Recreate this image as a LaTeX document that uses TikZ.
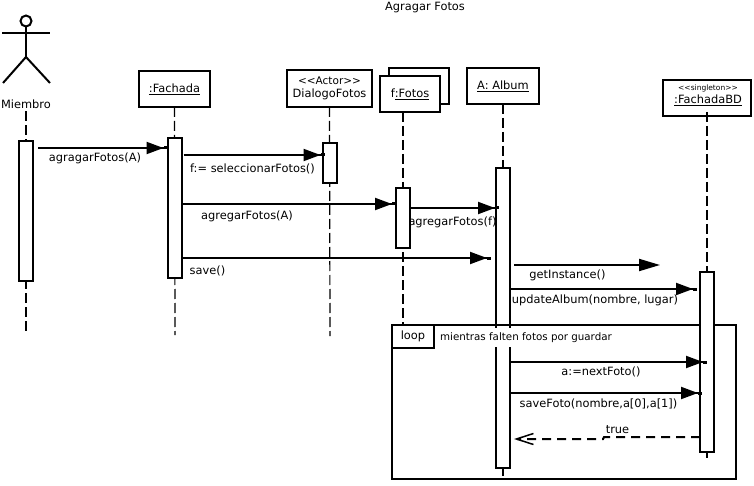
\documentclass[tikz,border=0pt]{standalone}
\usepackage{fontspec}
\setmainfont{DejaVu Sans}
\usetikzlibrary{positioning}
\usetikzlibrary{arrows.meta}
\tikzstyle{headbox} = [rectangle, draw=black, line width=2pt, fill=white,
    outer sep=0pt, inner sep=0pt, text centered, align=center]
\tikzstyle{activation} = [rectangle, draw=black, line width=2pt, fill=white,
    outer sep=0pt, inner sep=0pt,
    minimum width=14pt]
\tikzstyle{lifeline} = [line width=1.2pt, dash pattern=on 10pt off 4pt]
\tikzstyle{message} = [line width=2pt,
    -{Triangle[length=17pt,width=12pt]Rectangle[length=4pt,width=1pt]}]
\tikzstyle{reply} = [line width=2pt, dash pattern=on 9pt off 6pt,
    -{Straight Barb[length=17pt,width=11pt,line width=1.5pt]}]
\tikzstyle{limb} = [line width=2pt]
\tikzstyle{txt} = [inner sep=0pt, font=\fontsize{11.4pt}{13pt}\selectfont]

\begin{document}
\begin{tikzpicture}[x=1pt,y=-1pt]
\useasboundingbox (0,0) rectangle (754,486);

\node (title) [txt] at (425,8) {Agragar Fotos};

% actor
\node (head) [circle, draw=black, line width=2pt, inner sep=0pt, minimum size=11pt] at (26,21) {};
\coordinate (hip) at (26,57);
\coordinate (armL) at (2,33);
\coordinate (armR) at (50,33);
\coordinate (footL) at (3,83);
\coordinate (footR) at (50,83);
\draw [limb] (head) -- (hip);
\draw [limb] (armL) -- (armR);
\draw [limb] (footL) -- (hip) -- (footR);
\node (miembro) [txt, minimum height=14pt] at (26,104) {Miembro};

% heads
\node (fachada) [headbox, txt, minimum width=71pt, minimum height=36pt] at (174.5,89) {\underline{:Fachada}};
\node (dialogo) [headbox, minimum width=85pt, minimum height=37pt, txt, right = 77pt of fachada, yshift=.5pt] {{\fontsize{10.5pt}{13pt}\selectfont <{}<Actor>{}>}\\DialogoFotos};
\node (fotosBack) [headbox, minimum width=60pt, minimum height=36pt] at (419,86) {};
\node (fotos) [headbox, txt, minimum width=60pt, minimum height=36pt, below left = -28pt and -51pt of fotosBack] {f\underline{:Fotos}};
\node (album) [headbox, txt, minimum width=72pt, minimum height=36pt] at (503,86) {\underline{A: Album}};
\node (fachadaBD) [headbox, minimum width=88pt, minimum height=36pt] at (707,98) {};
\node (singleton) [txt, font=\fontsize{7.5pt}{8pt}\selectfont] at (708,88) {<{}<singleton>{}>};
\node (fachadaName) [txt] at (708,100.5) {\underline{:FachadaBD}};

% lifeline ends
\coordinate (endMiembro) at (26,335);
\coordinate (endFachada) at (175,335);
\coordinate (endDialogo) at (330,336);
\coordinate (endFotos) at (403,325);
\coordinate (endAlbum) at (503,476);
\coordinate (endBD) at (707,460);

\draw [lifeline] (miembro.south) -- (endMiembro);
\draw [lifeline] (fachada.south) -- (endFachada);
\draw [lifeline] (dialogo.south) -- (endDialogo);
\draw [lifeline] (fotos.south -| endFotos) -- (endFotos);
\draw [lifeline] (album.south) -- (endAlbum);
\draw [lifeline] ([yshift=4pt]fachadaBD.south) -- (endBD);

% activations
\node (actMiembro) [activation, minimum height=140pt, below = 30pt of miembro] {};
\node (actFachada) [activation, minimum height=140pt, below = 31pt of fachada] {};
\node (actDialogo) [activation, minimum height=40pt, below = 36pt of dialogo] {};
\node (actFotos) [activation, minimum height=60pt] at (403,218) {};
\node (actAlbum) [activation, minimum height=300pt, below = 64pt of album] {};

% loop
\node (frame) [rectangle, draw=black, line width=2pt, minimum width=344pt, minimum height=154pt,
    outer sep=0pt] at (564,402) {};
\node (loopTag) [rectangle, draw=black, line width=2pt, fill=white, minimum width=42pt, minimum height=23pt,
    outer sep=0pt, inner sep=0pt, txt] at (413,336.5) {loop};
\node (guard) [txt, font=\fontsize{10.3pt}{12pt}\selectfont, fill=white, minimum width=178pt, minimum height=19pt] at (526,337.5) {mientras falten fotos por guardar};

\node (actBD) [activation, minimum height=180pt] at (707,362) {};

% message rows
\coordinate (rowAgragar) at (0,148);
\coordinate (rowSelect) at (0,155);
\coordinate (rowAgregar) at (0,204);
\coordinate (rowAgregarF) at (0,208);
\coordinate (rowSave) at (0,258);
\coordinate (rowInstance) at (0,265);
\coordinate (rowUpdate) at (0,289);
\coordinate (rowNext) at (0,362);
\coordinate (rowFoto) at (0,393);
\coordinate (rowTrue) at (0,437);
\coordinate (rowTrueEnd) at (0,439);
\coordinate (instanceEnd) at (660,265);

\draw [message] ([xshift=5pt]actMiembro.east |- rowAgragar) -- (actFachada.west |- rowAgragar);
\draw [message] ([xshift=2pt]actFachada.east |- rowSelect) -- ([xshift=2pt]actDialogo.west |- rowSelect);
\draw [message] (actFachada.east |- rowAgregar) -- (actFotos.west |- rowAgregar);
\draw [message] (actFotos.east |- rowAgregarF) -- ([xshift=3pt]actAlbum.west |- rowAgregarF);
\draw [message] (actFachada.east |- rowSave) -- ([xshift=-5pt]actAlbum.west |- rowSave);
\draw [line width=2pt, -{Triangle[length=21pt,width=12pt]}] ([xshift=4pt]actAlbum.east |- rowInstance) -- (instanceEnd);
\draw [message] (actAlbum.east |- rowUpdate) -- ([xshift=-3pt]actBD.west |- rowUpdate);
\draw [message] (actAlbum.east |- rowNext) -- (actBD.center |- rowNext);
\draw [message] (actAlbum.east |- rowFoto) -- ([xshift=2pt]actBD.west |- rowFoto);
\draw [reply] (actBD.west |- rowTrue) -- (604,437) -- (603,439) -- ([xshift=4pt]actAlbum.east |- rowTrueEnd);

% message labels
\node (lblAgragar) [txt] at (95,158.5) {agragarFotos(A)};
\node (lblSelect) [txt] at (252.5,168.5) {f:= seleccionarFotos()};
\node (lblAgregar) [txt] at (247,216.5) {agregarFotos(A)};
\node (lblAgregarF) [txt] at (452.5,222.5) {agregarFotos(f)};
\node (lblSave) [txt] at (207.5,270.5) {save()};
\node (lblInstance) [txt] at (567.5,275.5) {getInstance()};
\node (lblUpdate) [txt] at (595,300.5) {updateAlbum(nombre, lugar)};
\node (lblNext) [txt] at (601,371.5) {a:=nextFoto()};
\node (lblFoto) [txt] at (598.5,403.5) {saveFoto(nombre,a[0],a[1])};
\node (lblTrue) [txt] at (617.5,430) {true};

\end{tikzpicture}
\end{document}
